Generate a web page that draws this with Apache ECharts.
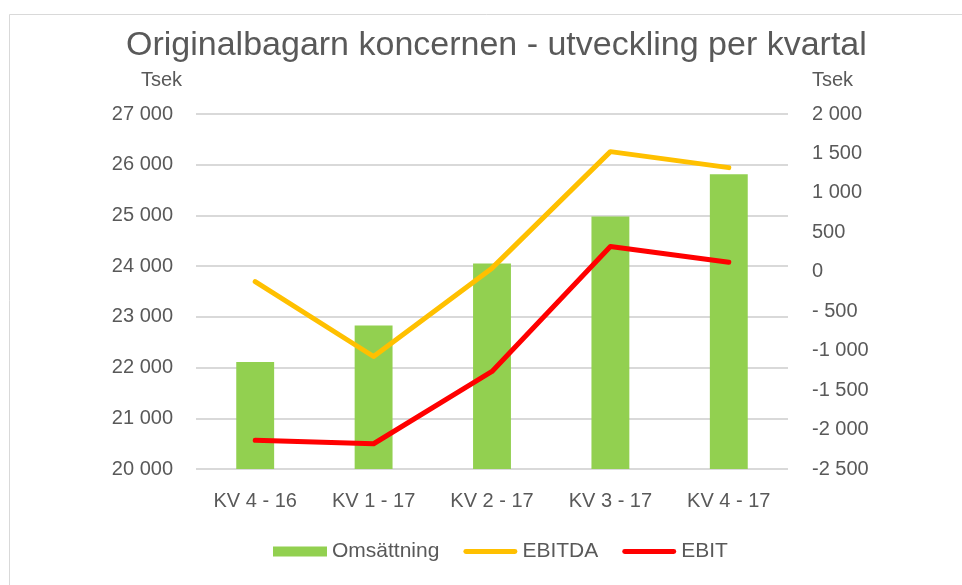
<!DOCTYPE html>
<html>
<head>
<meta charset="utf-8">
<script src="https://cdn.jsdelivr.net/npm/echarts@6/dist/echarts.min.js"></script>
<style>
html,body{margin:0;padding:0;background:#fff;}
#main{width:962px;height:585px;}
</style>
</head>
<body>
<div id="main"></div>
<script>
const categories = ['KV 4 - 16', 'KV 1 - 17', 'KV 2 - 17', 'KV 3 - 17', 'KV 4 - 17'];
const omsattning = [22110, 22830, 24050, 24980, 25810];
const ebitda = [-124, -1074, 46, 1523, 1320];
const ebit = [-2137, -2180, -1263, 320, 122];

const FONT = '"Liberation Sans", Arial, sans-serif';
const TXT = '#595959';
const LINE_ICON = 'path://M2.5,0 L52.5,0 A2.5,2.5 0 0 1 52.5,5 L2.5,5 A2.5,2.5 0 0 1 2.5,0 Z';

function fmt(v) {
  const neg = v < 0;
  let a = Math.abs(v);
  let s;
  if (a >= 1000) {
    s = Math.floor(a / 1000) + ' ' + String(a % 1000).padStart(3, '0');
  } else {
    s = String(a);
    if (neg) s = ' ' + s;
  }
  return (neg ? '-' : '') + s;
}

const chart = echarts.init(document.getElementById('main'));

var option = {
  backgroundColor: '#fff',
  textStyle: { fontFamily: FONT },
  title: {
    text: 'Originalbagarn koncernen - utveckling per kvartal',
    left: 121,
    top: 24,
    textStyle: { fontFamily: FONT, fontSize: 34, fontWeight: 'normal', color: TXT }
  },
  graphic: [
    { type: 'rect', shape: { x: 9.5, y: 14.5, width: 970, height: 600 },
      style: { fill: 'none', stroke: '#D9D9D9', lineWidth: 1 }, silent: true }
  ],
  legend: {
    bottom: 18,
    left: 268,
    itemWidth: 54,
    itemHeight: 10,
    itemGap: 24,
    textStyle: { fontFamily: FONT, fontSize: 21, color: TXT },
    data: [
      { name: 'Omsättning', icon: 'rect' },
      { name: 'EBITDA', icon: LINE_ICON, itemStyle: { color: '#FFC000' } },
      { name: 'EBIT', icon: LINE_ICON, itemStyle: { color: '#FF0000' } }
    ]
  },
  grid: { left: 196, right: 174, top: 114, bottom: 116 },
  xAxis: {
    type: 'category',
    data: categories,
    axisLine: { show: false },
    axisTick: { show: false },
    axisLabel: { fontFamily: FONT, fontSize: 20, color: TXT, margin: 22 }
  },
  yAxis: [
    {
      type: 'value',
      min: 20000, max: 27000, interval: 1000,
      name: 'Tsek',
      nameLocation: 'end',
      nameGap: 24,
      nameTextStyle: { fontFamily: FONT, fontSize: 20, color: TXT, align: 'right', padding: [0, 14, 0, 0] },
      axisLine: { show: false },
      axisTick: { show: false },
      axisLabel: { fontFamily: FONT, fontSize: 20, color: TXT, margin: 23, formatter: fmt },
      splitLine: { lineStyle: { color: '#D9D9D9', width: 2 } }
    },
    {
      type: 'value',
      min: -2500, max: 2000, interval: 500,
      name: 'Tsek',
      nameLocation: 'end',
      nameGap: 24,
      nameTextStyle: { fontFamily: FONT, fontSize: 20, color: TXT, align: 'left', padding: [0, 0, 0, 24] },
      axisLine: { show: false },
      axisTick: { show: false },
      axisLabel: { fontFamily: FONT, fontSize: 20, color: TXT, margin: 24, formatter: fmt },
      splitLine: { show: false }
    }
  ],
  series: [
    {
      name: 'Omsättning',
      type: 'bar',
      data: omsattning,
      barWidth: '32%',
      itemStyle: { color: '#92D050' }
    },
    {
      name: 'EBITDA',
      type: 'line',
      yAxisIndex: 1,
      data: ebitda,
      showSymbol: false,
      symbol: 'none',
      color: '#FFC000',
      lineStyle: { width: 5, color: '#FFC000', cap: 'round', join: 'round' }
    },
    {
      name: 'EBIT',
      type: 'line',
      yAxisIndex: 1,
      data: ebit,
      showSymbol: false,
      symbol: 'none',
      color: '#FF0000',
      lineStyle: { width: 5, color: '#FF0000', cap: 'round', join: 'round' }
    }
  ]
};

chart.setOption(option);
</script>
</body>
</html>
